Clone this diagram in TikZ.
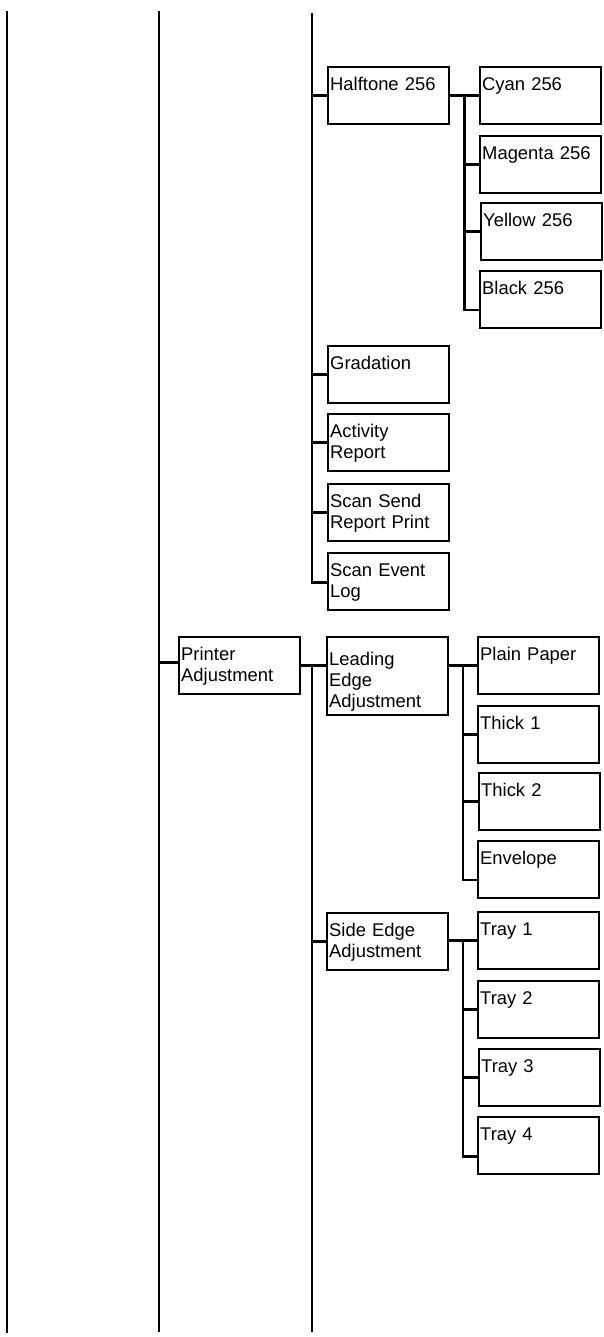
\documentclass[tikz,border=0pt]{standalone}
\usepackage{fontspec}
\setmainfont{Liberation Sans}
\usetikzlibrary{calc}
\tikzset{
  box/.style={draw, line width=2pt, minimum width=121pt, minimum height=57pt, inner sep=0pt, anchor=north west},
  tallbox/.style={box, minimum height=78pt},
  txt/.style={anchor=base west, inner sep=0pt, font=\fontsize{18.4}{21}\selectfont, align=left, text width=117pt},
  ln/.style={line width=2.2pt}
}
\begin{document}
\begin{tikzpicture}[x=1pt,y=-1pt]
\useasboundingbox (0,0) rectangle (604,1337);
% boxes
\node[box] (ht) at (327,66) {};
\node[box] (cy) at (479,66) {};
\node[box] (mg) at (479,135) {};
\node[box] (ye) at (480,202) {};
\node[box] (bk) at (479,270) {};
\node[box] (gr) at (327,345) {};
\node[box] (ar) at (327,413) {};
\node[box] (ss) at (327,483) {};
\node[box] (se) at (327,552) {};
\node[box] (pa) at (178,636) {};
\node[tallbox] (le) at (326,636) {};
\node[box] (pp) at (477,636) {};
\node[box] (t1) at (477,705) {};
\node[box] (t2) at (478,772) {};
\node[box] (en) at (477,840) {};
\node[box] (sa) at (326,912) {};
\node[box] (tr1) at (477,911) {};
\node[box] (tr2) at (477,980) {};
\node[box] (tr3) at (478,1048) {};
\node[box] (tr4) at (477,1116) {};
% labels
\node[txt] (ht-l) at ([xshift=3pt,yshift=-24.5pt]ht.north west) {Halftone 256};
\node[txt] (cy-l) at ([xshift=3pt,yshift=-24.5pt]cy.north west) {Cyan 256};
\node[txt] (mg-l) at ([xshift=3pt,yshift=-24.5pt]mg.north west) {Magenta 256};
\node[txt] (ye-l) at ([xshift=3pt,yshift=-24.5pt]ye.north west) {Yellow 256};
\node[txt] (bk-l) at ([xshift=3pt,yshift=-24.5pt]bk.north west) {Black 256};
\node[txt] (gr-l) at ([xshift=3pt,yshift=-24.5pt]gr.north west) {Gradation};
\node[txt] (ar-l) at ([xshift=3pt,yshift=-24.5pt]ar.north west) {Activity\\Report};
\node[txt] (ss-l) at ([xshift=3pt,yshift=-24.5pt]ss.north west) {Scan Send\\Report Print};
\node[txt] (se-l) at ([xshift=3pt,yshift=-24.5pt]se.north west) {Scan Event\\Log};
\node[txt] (pa-l) at ([xshift=3pt,yshift=-24.5pt]pa.north west) {Printer\\Adjustment};
\node[txt] (le-l) at ([xshift=3pt,yshift=-29pt]le.north west) {Leading\\Edge\\Adjustment};
\node[txt] (pp-l) at ([xshift=3pt,yshift=-24.5pt]pp.north west) {Plain Paper};
\node[txt] (t1-l) at ([xshift=3pt,yshift=-24.5pt]t1.north west) {Thick 1};
\node[txt] (t2-l) at ([xshift=3pt,yshift=-24.5pt]t2.north west) {Thick 2};
\node[txt] (en-l) at ([xshift=3pt,yshift=-24.5pt]en.north west) {Envelope};
\node[txt] (sa-l) at ([xshift=3pt,yshift=-24.5pt]sa.north west) {Side Edge\\Adjustment};
\node[txt] (tr1-l) at ([xshift=3pt,yshift=-24.5pt]tr1.north west) {Tray 1};
\node[txt] (tr2-l) at ([xshift=3pt,yshift=-24.5pt]tr2.north west) {Tray 2};
\node[txt] (tr3-l) at ([xshift=3pt,yshift=-24.5pt]tr3.north west) {Tray 3};
\node[txt] (tr4-l) at ([xshift=3pt,yshift=-24.5pt]tr4.north west) {Tray 4};
% trunk lines
\coordinate (atop) at (7,11);
\coordinate (abot) at (7,1333);
\coordinate (btop) at (159,11);
\coordinate (bbot) at (159,1332);
\coordinate (ctop) at (312,13);
\coordinate (cbot) at (312,1332);
\draw[ln] (atop) -- (abot);
\draw[ln] (btop) -- (bbot);
% upper column C
\draw[ln] (ctop) |- ([yshift=-1pt]se.west);
\draw[ln] (ctop |- ht.west) -- (ht.west);
\draw[ln] (ctop |- gr.west) -- (gr.west);
\draw[ln] (ctop |- ar.west) -- (ar.west);
\draw[ln] (ctop |- ss.west) -- (ss.west);
% halftone children
\coordinate (j1) at ($(ht.east)!.5!(cy.west)$);
\draw[ln] (ht.east) -- (cy.west);
\draw[ln] (j1) |- ([yshift=-10.5pt]bk.west);
\draw[ln] (j1 |- mg.west) -- (mg.west);
\draw[ln] (j1 |- ye.west) -- (ye.west);
% printer adjustment
\coordinate (paw) at ([yshift=3pt]pa.west);
\draw[ln] (btop |- paw) -- (paw);
\draw[ln] (pa.east) -- (pa.east -| le.west);
\draw[ln] (pa.east -| cbot) -- (cbot);
\draw[ln] (cbot |- sa.west) -- (sa.west);
% leading edge children
\coordinate (j2) at ($(le.east |- pp.west)!.5!(pp.west)$);
\draw[ln] (le.east |- pp.west) -- (pp.west);
\draw[ln] (j2) |- ([yshift=-10.5pt]en.west);
\draw[ln] (j2 |- t1.west) -- (t1.west);
\draw[ln] (j2 |- t2.west) -- (t2.west);
% side edge children
\coordinate (j3) at ($(sa.east |- tr1.west)!.5!(tr1.west)$);
\draw[ln] (sa.east |- tr1.west) -- (tr1.west);
\draw[ln] (j3) |- ([yshift=-11pt]tr4.west);
\draw[ln] (j3 |- tr2.west) -- (tr2.west);
\draw[ln] (j3 |- tr3.west) -- (tr3.west);
\end{tikzpicture}
\end{document}
